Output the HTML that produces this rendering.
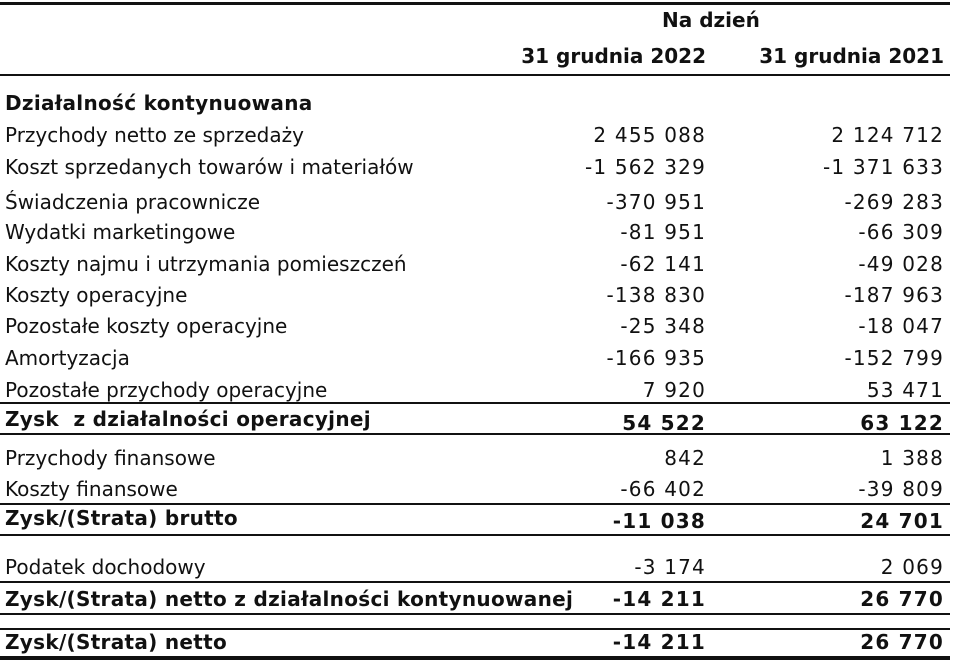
<!DOCTYPE html>
<html><head><meta charset="utf-8"><style>
body{margin:0;width:954px;height:664px;background:#fff;position:relative;overflow:hidden;font-family:"DejaVu Sans","Liberation Sans",sans-serif;font-size:20px;color:#111}
.r{position:absolute;left:0;width:954px;height:24px;line-height:24px;white-space:nowrap}
.l{position:absolute;left:5px}
.a{position:absolute;right:248px;letter-spacing:1.2px}
.b{position:absolute;right:10px;letter-spacing:1.2px}
.bd{font-weight:bold}
.bd .l{letter-spacing:0.3px}
.h{position:absolute;left:0;width:950px;background:#111}
</style></head><body>
<div class="h" style="top:2px;height:3px"></div>
<div class="r bd" style="top:8px"><span style="position:absolute;left:662px">Na dzień</span></div>
<div class="r bd" style="top:44px"><span class="a" style="letter-spacing:0">31 grudnia 2022</span><span class="b" style="letter-spacing:0">31 grudnia 2021</span></div>
<div class="h" style="top:74px;height:2px"></div>
<div class="r bd" style="top:91px"><span class="l">Działalność kontynuowana</span></div>
<div class="r" style="top:123px"><span class="l">Przychody netto ze sprzedaży</span><span class="a">2 455 088</span><span class="b">2 124 712</span></div>
<div class="r" style="top:155px"><span class="l">Koszt sprzedanych towarów i materiałów</span><span class="a">-1 562 329</span><span class="b">-1 371 633</span></div>
<div class="r" style="top:190px"><span class="l">Świadczenia pracownicze</span><span class="a">-370 951</span><span class="b">-269 283</span></div>
<div class="r" style="top:220px"><span class="l">Wydatki marketingowe</span><span class="a">-81 951</span><span class="b">-66 309</span></div>
<div class="r" style="top:252px"><span class="l">Koszty najmu i utrzymania pomieszczeń</span><span class="a">-62 141</span><span class="b">-49 028</span></div>
<div class="r" style="top:283px"><span class="l">Koszty operacyjne</span><span class="a">-138 830</span><span class="b">-187 963</span></div>
<div class="r" style="top:314px"><span class="l">Pozostałe koszty operacyjne</span><span class="a">-25 348</span><span class="b">-18 047</span></div>
<div class="r" style="top:346px"><span class="l">Amortyzacja</span><span class="a">-166 935</span><span class="b">-152 799</span></div>
<div class="r" style="top:378px"><span class="l">Pozostałe przychody operacyjne</span><span class="a">7 920</span><span class="b">53 471</span></div>
<div class="h" style="top:402px;height:2px"></div>
<div class="r bd" style="top:407px"><span class="l">Zysk&nbsp; z działalności operacyjnej</span></div>
<div class="r bd" style="top:411px"><span class="a">54 522</span><span class="b">63 122</span></div>
<div class="h" style="top:433px;height:2px"></div>
<div class="r" style="top:446px"><span class="l">Przychody finansowe</span><span class="a">842</span><span class="b">1 388</span></div>
<div class="r" style="top:477px"><span class="l">Koszty finansowe</span><span class="a">-66 402</span><span class="b">-39 809</span></div>
<div class="h" style="top:503px;height:2px"></div>
<div class="r bd" style="top:506px"><span class="l">Zysk/(Strata) brutto</span></div>
<div class="r bd" style="top:509px"><span class="a">-11 038</span><span class="b">24 701</span></div>
<div class="h" style="top:534px;height:2px"></div>
<div class="r" style="top:555px"><span class="l">Podatek dochodowy</span><span class="a">-3 174</span><span class="b">2 069</span></div>
<div class="h" style="top:581px;height:2px"></div>
<div class="r bd" style="top:587px"><span class="l">Zysk/(Strata) netto z działalności kontynuowanej</span><span class="a">-14 211</span><span class="b">26 770</span></div>
<div class="h" style="top:613px;height:2px"></div>
<div class="h" style="top:628px;height:2px"></div>
<div class="r bd" style="top:630px"><span class="l">Zysk/(Strata) netto</span><span class="a">-14 211</span><span class="b">26 770</span></div>
<div class="h" style="top:656px;height:4px"></div>
</body></html>
